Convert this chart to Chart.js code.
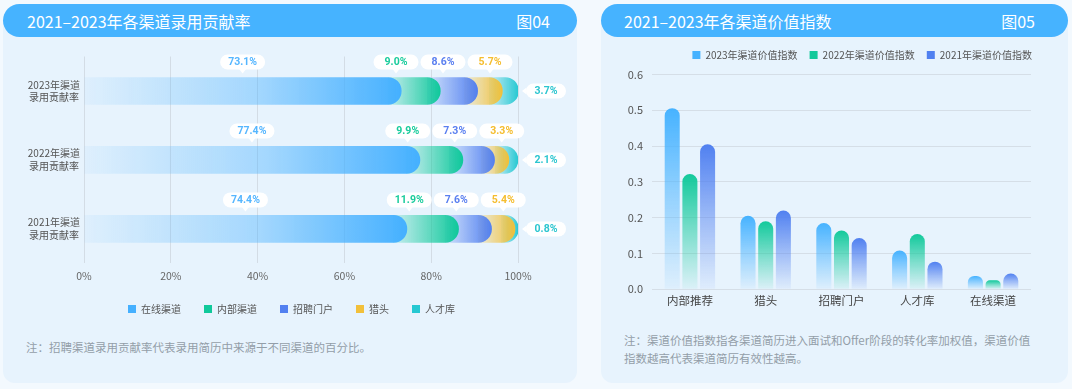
<!DOCTYPE html>
<html><head><meta charset="utf-8">
<script src="https://cdn.jsdelivr.net/npm/chart.js@4.4.0/dist/chart.umd.min.js"></script>
<style>
html,body{margin:0;padding:0;}
body{width:1072px;height:389px;background:#f3f9fe;position:relative;overflow:hidden;font-family:'Noto Sans CJK SC','Noto Sans',sans-serif;}
.panel{position:absolute;top:4px;height:379px;background:#e7f3fd;border-radius:16px 16px 12px 12px;}
.hdr{position:absolute;left:0;top:0;right:0;height:33px;background:#46b3ff;border-radius:17px;color:#fff;font-size:16px;line-height:33px;}
.hdr span{position:absolute;top:1px;}
.note{position:absolute;color:#939ea8;font-size:11.5px;line-height:17.7px;white-space:nowrap;}
.cv{position:absolute;}
</style></head>
<body>
<div class="panel" style="left:3px;width:574px">
  <div class="hdr"><span style="left:24px">2021–2023年各渠道录用贡献率</span><span style="right:27px">图04</span></div>
  <div class="note" style="left:23px;top:335px">注：招聘渠道录用贡献率代表录用简历中来源于不同渠道的百分比。</div>
</div>
<div class="panel" style="left:601px;width:467px">
  <div class="hdr"><span style="left:23px">2021–2023年各渠道价值指数</span><span style="right:33px">图05</span></div>
  <div class="note" style="left:23px;top:328px">注：渠道价值指数指各渠道简历进入面试和Offer阶段的转化率加权值，渠道价值<br>指数越高代表渠道简历有效性越高。</div>
</div>
<canvas id="c1" class="cv" width="577" height="291" style="left:3px;top:40px"></canvas>
<canvas id="c2" class="cv" width="467" height="273" style="left:601px;top:40px"></canvas>
<script>
// ---------- data: figure 04 ----------
const rowLabels = [['2023年渠道','录用贡献率'],['2022年渠道','录用贡献率'],['2021年渠道','录用贡献率']];
const channelNames = ['在线渠道','内部渠道','招聘门户','猎头','人才库'];
const online = [73.1, 77.4, 74.4];
const internal = [9.0, 9.9, 11.9];
const portal = [8.6, 7.3, 7.6];
const headhunt = [5.7, 3.3, 5.4];
const talentPool = [3.7, 2.1, 0.8];
const pctTicks = ['0%','20%','40%','60%','80%','100%'];

// ---------- data: figure 05 ----------
const valueCats = ['内部推荐','猎头','招聘门户','人才库','在线渠道'];
const yearNames = ['2023年渠道价值指数','2022年渠道价值指数','2021年渠道价值指数'];
const idx2023 = [0.506, 0.205, 0.185, 0.108, 0.037];
const idx2022 = [0.322, 0.190, 0.164, 0.154, 0.025];
const idx2021 = [0.405, 0.220, 0.143, 0.077, 0.044];
const idxTicks = ['0.0','0.1','0.2','0.3','0.4','0.5','0.6'];

Chart.defaults.font.family = "'Noto Sans CJK SC','Noto Sans',sans-serif";
Chart.defaults.animation = false;

function rgba(c,a){return 'rgba('+c[0]+','+c[1]+','+c[2]+','+a+')';}

// ---------- styles ----------
const segColors = [[69,176,255],[16,201,155],[82,128,240],[242,192,58],[38,200,210]];
const segText = ['#55b6ff','#19cc9c','#5a7ff0','#f5bd2e','#2cc6d0'];
const yearColors = [[70,178,255],[18,201,155],[80,128,240]];

const series = [online, internal, portal, headhunt, talentPool];
const cum = series.map((s,i)=>s.map((v,j)=>{let t=0;for(let k=0;k<=i;k++)t+=series[k][j];return Math.round(t*10)/10;}));
const CAP = 13.5;

function hBarFill(i){
  return (c)=>{
    const col = segColors[i];
    if (c.type !== 'data') return rgba(col,1);
    const chart = c.chart, xs = chart.scales.x;
    if (!chart.chartArea || !xs) return rgba(col,1);
    const j = c.dataIndex;
    const x0 = xs.getPixelForValue(0);
    const xe = xs.getPixelForValue(cum[i][j]);
    const g = chart.ctx.createLinearGradient(x0,0,xe,0);
    if (i === 0){
      g.addColorStop(0, rgba(col,0.05));
      g.addColorStop(0.55, rgba(col,0.42));
      g.addColorStop(1, rgba(col,1));
    } else {
      const xv = xs.getPixelForValue(cum[i-1][j]) - CAP;
      const f = Math.max(0, Math.min(0.999, (xv-x0)/(xe-x0)));
      g.addColorStop(0, rgba(col,0));
      g.addColorStop(f, rgba(col,0));
      g.addColorStop(f, rgba(col,0.14));
      g.addColorStop(1, rgba(col,1));
    }
    return g;
  };
}
function vBarFill(k){
  return (c)=>{
    const col = yearColors[k];
    if (c.type !== 'data') return rgba(col,1);
    const chart = c.chart, ys = chart.scales.y;
    if (!chart.chartArea || !ys) return rgba(col,1);
    const yt = ys.getPixelForValue(c.raw), yb = ys.getPixelForValue(0);
    const g = chart.ctx.createLinearGradient(0,yt,0,yb);
    g.addColorStop(0, rgba(col,1));
    g.addColorStop(0.5, rgba(col,0.5));
    g.addColorStop(1, rgba(col,0.05));
    return g;
  };
}
function solidLegend(colors){
  return (chart)=>Chart.defaults.plugins.legend.labels.generateLabels(chart).map((l,i)=>
    Object.assign(l,{fillStyle:rgba(colors[i],1),strokeStyle:rgba(colors[i],1),lineWidth:0}));
}

// legend placement helper
const legendPlace = {
  id:'legendPlace',
  beforeInit(chart){
    const lg = chart.legend; if(!lg) return;
    const fit = lg.fit;
    lg.fit = function(){ fit.call(lg); this.height += (chart.options.plugins.legendPlace.extra||0); };
  },
  afterLayout(chart, args, opts){
    const lg = chart.legend; if(!lg) return;
    if (opts.mode === 'canvasCenter'){ lg.left = 0; lg.right = chart.width; }
    else if (opts.mode === 'areaEnd'){ lg.right = chart.chartArea.right + lg.options.labels.padding + (opts.dx||0); }
    lg.top += (opts.dy||0);
  }
};

function pillPath(ctx,x,y,w,h){
  const r=h/2;
  ctx.beginPath();
  ctx.moveTo(x+r,y); ctx.lineTo(x+w-r,y);
  ctx.arc(x+w-r,y+r,r,-Math.PI/2,Math.PI/2);
  ctx.lineTo(x+r,y+h);
  ctx.arc(x+r,y+r,r,Math.PI/2,Math.PI*1.5);
  ctx.closePath();
}

const pills = {
  id:'pills',
  afterDatasetsDraw(chart){
    const ctx = chart.ctx, xs = chart.scales.x;
    const W=45, H=15, GAP=47;
    const xMax = xs.getPixelForValue(100);
    ctx.save();
    ctx.font = "bold 10.5px Roboto,'Noto Sans',sans-serif";
    ctx.textAlign='center'; ctx.textBaseline='middle';
    for (let j=0;j<rowLabels.length;j++){
      const el = chart.getDatasetMeta(0).data[j];
      const yc = el.y, half = el.height/2;
      const mids = [];
      for (let i=0;i<4;i++){
        const a = xs.getPixelForValue(i ? cum[i-1][j] : 0), b = xs.getPixelForValue(cum[i][j]);
        mids.push((a+b)/2);
      }
      const cs = mids.slice();
      cs[3] = Math.min(mids[3], xMax-9);
      for (let i=2;i>=1;i--) cs[i] = Math.min(mids[i], cs[i+1]-GAP);
      const top = yc - half - 8 - H;
      for (let i=0;i<4;i++){
        const x = cs[i]-W/2;
        ctx.fillStyle='#ffffff';
        pillPath(ctx,x,top,W,H); ctx.fill();
        ctx.beginPath(); ctx.moveTo(cs[i]-3.5,top+H-0.5); ctx.lineTo(cs[i],top+H+4); ctx.lineTo(cs[i]+3.5,top+H-0.5); ctx.closePath(); ctx.fill();
        ctx.fillStyle = segText[i];
        ctx.fillText(series[i][j].toFixed(1)+'%', cs[i], top+H/2+0.5);
      }
      const x0 = xMax+8, w2=40;
      ctx.fillStyle='#ffffff';
      pillPath(ctx,x0,yc-H/2,w2,H); ctx.fill();
      ctx.beginPath(); ctx.moveTo(x0+0.5,yc-3.5); ctx.lineTo(x0-4,yc); ctx.lineTo(x0+0.5,yc+3.5); ctx.closePath(); ctx.fill();
      ctx.fillStyle = segText[4];
      ctx.fillText(series[4][j].toFixed(1)+'%', x0+w2/2, yc+0.5);
    }
    ctx.restore();
  }
};

// ---------- chart 04 ----------
new Chart(document.getElementById('c1'), {
  type:'bar',
  data:{
    labels: rowLabels,
    datasets: series.map((s,i)=>({
      label: channelNames[i],
      data: cum[i],
      backgroundColor: hBarFill(i),
      borderWidth: 0,
      borderRadius: 14,
      borderSkipped: 'start',
      barThickness: 27,
      grouped: false
    }))
  },
  options:{
    responsive:false,
    indexAxis:'y',
    layout:{padding:{top:13,right:62,left:0,bottom:0}},
    scales:{
      x:{min:0,max:100,
         ticks:{stepSize:20,callback:(v,i)=>pctTicks[i],font:{size:10.5},color:'#666',padding:6},
         grid:{color:'#d3dce5',drawTicks:false,lineWidth:1},
         border:{display:false}},
      y:{ticks:{crossAlign:'center',padding:4,font:{size:10,lineHeight:1.25},color:'#555'},
         grid:{display:false,drawTicks:false},border:{display:false},
         afterFit(s){s.width=81;}}
    },
    plugins:{
      legend:{position:'bottom',labels:{boxWidth:8,boxHeight:8,padding:23,font:{size:10},color:'#555',generateLabels:solidLegend(segColors)}},
      tooltip:{enabled:false},
      legendPlace:{mode:'canvasCenter',dy:-7,extra:0}
    }
  },
  plugins:[legendPlace,pills]
});

// ---------- chart 05 ----------
const idxSeries = [idx2023, idx2022, idx2021];
new Chart(document.getElementById('c2'), {
  type:'bar',
  data:{
    labels: valueCats,
    datasets: idxSeries.map((s,k)=>({
      label: yearNames[k],
      data: s,
      backgroundColor: vBarFill(k),
      borderWidth:0,
      borderRadius:8,
      borderSkipped:'start',
      categoryPercentage:0.7,
      barPercentage:0.85
    }))
  },
  options:{
    responsive:false,
    layout:{padding:{top:0,right:37,left:0,bottom:0}},
    scales:{
      x:{ticks:{font:{size:11.5},color:'#444',padding:5},grid:{display:false,drawTicks:false},border:{display:false}},
      y:{min:0,max:0.6,
         ticks:{stepSize:0.1,callback:(v,i)=>idxTicks[i],font:{size:11},color:'#555',padding:9},
         grid:{color:'#d5dee7',drawTicks:false},border:{display:false},
         afterFit(s){s.width=51;}}
    },
    plugins:{
      legend:{position:'top',align:'end',labels:{boxWidth:8,boxHeight:8,padding:12,font:{size:10},color:'#555',generateLabels:solidLegend(yearColors)}},
      tooltip:{enabled:false},
      legendPlace:{mode:'areaEnd',dx:1,dy:-2,extra:2.5}
    }
  },
  plugins:[legendPlace]
});
</script>
</body></html>
